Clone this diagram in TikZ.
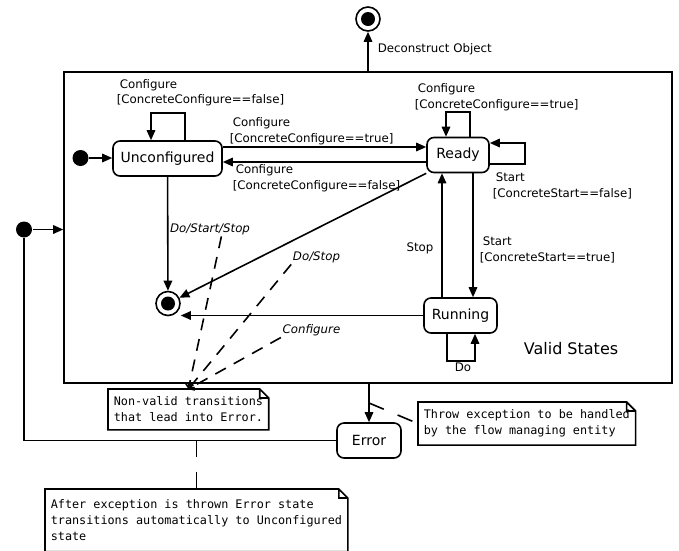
\documentclass[tikz,border=0pt]{standalone}
\usepackage{fontspec}
\setmainfont{DejaVu Sans}
\setmonofont{DejaVu Sans Mono}
\usetikzlibrary{arrows.meta}

\tikzset{
  state/.style={draw, rounded corners=7pt, minimum height=35pt, inner sep=0pt, font=\fontsize{14}{16}\selectfont},
  final/.style={circle, draw, minimum size=24pt, inner sep=0pt,
    path picture={\fill (path picture bounding box.center) circle (7pt);}},
  initdot/.style={circle, fill, minimum size=16pt, inner sep=0pt},
  lbl/.style={font=\fontsize{11.8}{15.5}\selectfont, align=left, inner sep=1pt},
  note/.style={font=\ttfamily\fontsize{11.8}{16}\selectfont, align=left, inner xsep=5pt, inner ysep=7pt, anchor=north west},
  hint/.style={dash pattern=on 12pt off 9pt, -{Straight Barb[length=4pt,width=8pt]}},
  link/.style={dash pattern=on 16pt off 15pt},
}

\begin{document}
\begin{tikzpicture}[x=1pt, y=-1pt, line width=1.6pt, >={Triangle[length=10pt,width=8.5pt]}]
  \useasboundingbox (0,0) rectangle (679,550);

  \node[draw, minimum width=608pt, minimum height=311pt, inner sep=0pt] (valid) at (368,227.5) {};
  \node[font=\fontsize{16}{18}\selectfont] (lvalid) at (571,349) {Valid States};

  \foreach \x/\y/\w/\t in {167.5/158.5/109/Unconfigured, 458/155/62/Ready, 460.5/315.5/73/Running, 369/440.5/64/Error}
    \node[state, minimum width=\w pt] (s\t) at (\x,\y) {\t};

  \node[final] (fend) at (368,19) {};
  \node[final] (fvalid) at (168,303.5) {};
  \node[initdot] (iunconf) at (80.5,158) {};
  \node[initdot] (ierror) at (24,229.5) {};

  % entry and exit
  \draw[->] (iunconf) -- (iunconf -| sUnconfigured.west);
  \draw[->] (ierror) -- (ierror -| valid.west);
  \draw (sError.west) -| (ierror);
  \draw[->] (valid.north -| fend) -- (fend);
  \draw[->] (sError |- valid.south) -- (sError);

  % valid transitions
  \draw[->] (sUnconfigured.east |- 0,147) -- (sReady.west |- 0,147);
  \draw[->] (sReady.west |- 0,162) -- (sUnconfigured.east |- 0,162);
  \draw[->] (sUnconfigured.north -| 185,0) -- ++(0,-27) -| (sUnconfigured.north -| 151,0);
  \draw[->] (sReady.north -| 470,0) -- ++(0,-25) -| (sReady.north -| 446,0);
  \draw[->] (sReady.east |- 0,164) -- ++(35,0) |- (sReady.east |- 0,143);
  \draw[->] (sRunning.north -| 442,0) -- (sReady.south -| 442,0);
  \draw[->] (sReady.south -| 473,0) -- (sRunning.north -| 473,0);
  \draw[->] (sRunning.south -| 447,0) -- ++(0,27) -| (sRunning.south -| 475,0);
  \draw[->] (sUnconfigured) -- (fvalid);
  \draw[->] (sReady.south west) -- (fvalid);
  \draw[->] (sRunning.west) -- (sRunning.west -| fvalid.east);

  % labels
  \node[lbl, anchor=west] (ldecon) at (376,49) {Deconstruct Object};
  \node[lbl, anchor=west] (lcfgself) at (115,92.5) {\hspace{3pt}Configure\\{}[ConcreteConfigure==false]};
  \node[lbl, anchor=west] (lcfgup) at (228,131) {\hspace{3pt}Configure\\{}[ConcreteConfigure==true]};
  \node[lbl, anchor=west] (lcfgdown) at (231,178) {\hspace{3pt}Configure\\{}[ConcreteConfigure==false]};
  \node[lbl, anchor=west] (lreadyself) at (413,97) {\hspace{3pt}Configure\\{}[ConcreteConfigure==true]};
  \node[lbl, anchor=west] (lstartself) at (491,186) {\hspace{3pt}Start\\{}[ConcreteStart==false]};
  \node[lbl] (lstop) at (420,248) {Stop};
  \node[lbl, anchor=west] (lstart) at (478,250) {\hspace{3pt}Start\\{}[ConcreteStart==true]};
  \node[lbl] (ldo) at (463,367) {Do};
  \node[lbl, font=\itshape\fontsize{11.8}{15.5}\selectfont] (lds) at (210,229) {Do/Start/Stop};
  \node[lbl, font=\itshape\fontsize{11.8}{15.5}\selectfont] (ldostop) at (316.5,257) {Do/Stop};
  \node[lbl, font=\itshape\fontsize{11.8}{15.5}\selectfont] (lconf) at (311.5,330) {Configure};

  % notes
  \node[note] (nvalid) at (108,389) {Non-valid transitions\\that lead into Error.};
  \node[note] (nthrow) at (418,402) {Throw exception to be handled\\by the flow managing entity};
  \node[note, inner ysep=10pt] (nafter) at (45,489) {After exception is thrown Error state\\transitions automatically to Unconfigured\\state};
  \foreach \n in {nvalid, nthrow, nafter}
    \draw (\n.north west) -- ([xshift=-9pt]\n.north east) -- ([yshift=-9pt]\n.north east)
      -- (\n.south east) -- (\n.south west) -- cycle
      ([xshift=-9pt]\n.north east) |- ([yshift=-9pt]\n.north east);

  \foreach \a in {lds.-33, ldostop.south west, lconf.south west}
    \draw[hint] (\a) -- (nvalid.north);
  \coordinate (perr) at (369,403);
  \draw[link] (perr) -- (nthrow.west);
  \draw[link] (nafter.north |- sError.west) -- (nafter.north);
\end{tikzpicture}
\end{document}
